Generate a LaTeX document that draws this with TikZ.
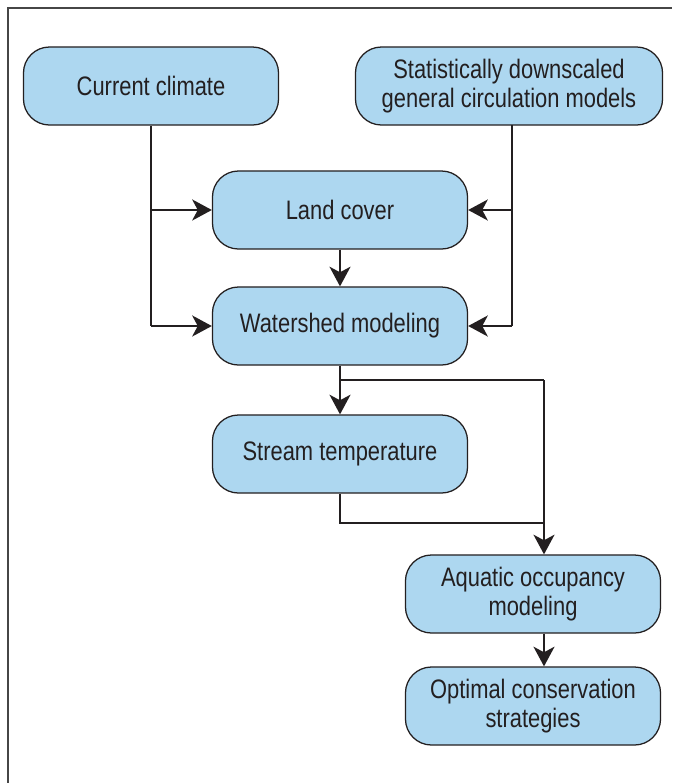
\documentclass[tikz,border=0pt]{standalone}
\usepackage{fontspec}
\setmainfont{Liberation Sans}[FakeStretch=0.82]
\usepackage{tikz}
\usetikzlibrary{arrows.meta,positioning}
\definecolor{boxfill}{RGB}{173, 215, 240}
\definecolor{ink}{RGB}{35, 31, 32}
\definecolor{framegray}{RGB}{70, 70, 70}
\tikzstyle{arrow} = [
    line width=1.3pt,
    -{Stealth[length=14pt,width=15pt,inset=4pt]},
    draw=ink
]
\tikzstyle{link} = [
    line width=1.3pt,
    draw=ink
]
\tikzstyle{stage} = [
    rectangle,
    rounded corners=6.5mm,
    minimum width=6.375cm,
    minimum height=1.95cm,
    align=center,
    draw=ink,
    line width=0.9pt,
    fill=boxfill,
    text=ink,
    font=\fontsize{19}{20.5}\selectfont
]

\begin{document}
\begin{tikzpicture}[x=0.025cm, y=-0.025cm]
    \useasboundingbox (0,0) rectangle (672,783);
    \draw[framegray, line width=1pt] (8,783) -- (8,8) -- (672,8);

    % inputs
    \node[stage] (climate) at (151,86) {Current climate};
    \node[stage, minimum width=7.675cm] (gcm) at (509,86) {Statistically downscaled\\general circulation models};

    % modeling chain
    \node[stage] (land) at (340,210) {Land cover};
    \node[stage] (shed) at (340,326) {Watershed modeling};
    \node[stage] (stream) at (340,454) {Stream temperature};
    \node[stage] (occ) at (533,594) {Aquatic occupancy\\modeling};
    \node[stage] (opt) at (533,706) {Optimal conservation\\strategies};

    \coordinate (split) at (544,380);
    \coordinate (merge) at (544,523);
    \coordinate (feed) at (512,125);

    % climate inputs
    \draw[link] (climate.south) -- (climate.south |- shed.west);
    \draw[arrow] (climate.south |- land.west) -- (land.west);
    \draw[arrow] (climate.south |- shed.west) -- (shed.west);
    \draw[link] (feed) -- (feed |- shed.east);
    \draw[arrow] (feed |- land.east) -- (land.east);
    \draw[arrow] (feed |- shed.east) -- (shed.east);

    \draw[arrow] (land) -- (shed);
    \draw[arrow] (shed.south) -- (stream.north);
    \draw[link] (shed.south |- split) -- (split);
    \draw[arrow] (split) -- (split |- occ.north);
    \draw[link] (stream.south) |- (merge);
    \draw[arrow] (occ.south -| split) -- (opt.north -| split);
\end{tikzpicture}
\end{document}
